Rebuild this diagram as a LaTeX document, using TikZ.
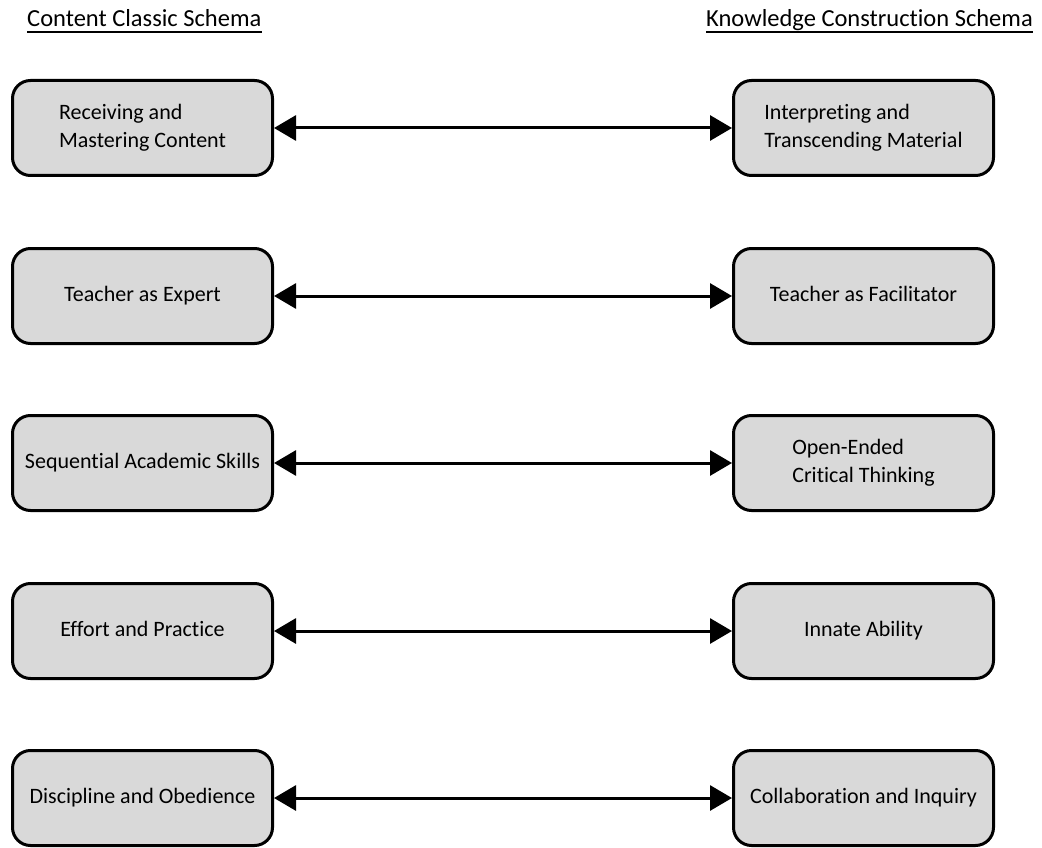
\documentclass[tikz,border=0pt]{standalone}
\usepackage{fontspec}
\setmainfont{Carlito}[Ligatures=NoCommon]
\usetikzlibrary{arrows.meta}
\definecolor{boxgray}{HTML}{D9D9D9}
\begin{document}
\begin{tikzpicture}[x=1pt,y=-1pt,
  schemabox/.style={draw=black, line width=3pt, fill=boxgray, rounded corners=18pt,
    minimum width=260pt, minimum height=95pt, align=left, inner sep=0pt,
    font=\fontsize{22}{27.5}\selectfont},
  heading/.style={inner sep=0pt, font=\fontsize{24.5}{29}\selectfont},
  link/.style={line width=3pt, {Triangle[length=22pt,width=25pt]}-{Triangle[length=22pt,width=25pt]}}]
\useasboundingbox (0,0) rectangle (1042,848);

% column headings
\node[heading, anchor=base west] (hl) at (27,27) {Content Classic Schema};
\node[heading, anchor=base east] (hr) at (1033,27) {Knowledge Construction Schema};
\draw[line width=1.4pt] ([yshift=-5pt]hl.base west) -- ([yshift=-5pt]hl.base east);
\draw[line width=1.4pt] ([yshift=-5pt]hr.base west) -- ([yshift=-5pt]hr.base east);

% paired boxes, one row per contrast (struts keep the text centred alike)
\foreach \i/\y/\ltext/\rtext in {
  1/128/{\strut Receiving and\\\strut Mastering Content}/{\strut Interpreting and\\\strut Transcending Material},
  2/296/{\strut Teacher as Expert}/{\strut Teacher as Facilitator},
  3/463/{\strut Sequential Academic Skills}/{\strut Open-Ended\\\strut Critical Thinking},
  4/631/{\strut Effort and Practice}/{\strut Innate Ability},
  5/798/{\strut Discipline and Obedience}/{\strut Collaboration and Inquiry}} {
  \node[schemabox] (l\i) at (142.5,\y) {\ltext};
  \node[schemabox] (r\i) at (863.5,\y) {\rtext};
  \draw[link] (l\i.east) -- (r\i.west);
}
\end{tikzpicture}
\end{document}
